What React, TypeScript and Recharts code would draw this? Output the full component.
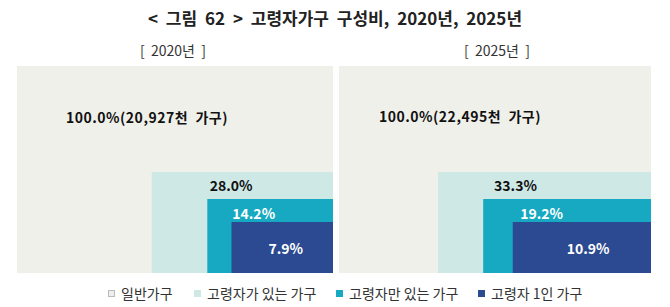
import React from "react";
import { ComposedChart, XAxis, YAxis, ReferenceArea } from "recharts";

// 가구 구성비 (%), 연도별
const years = ["2020년", "2025년"];
const totalHouseholds = ["20,927", "22,495"]; // 천 가구
const withElderly = [28.0, 33.3];
const elderlyOnly = [14.2, 19.2];
const elderlySingle = [7.9, 10.9];
const seriesNames = [
  "일반가구",
  "고령자가 있는 가구",
  "고령자만 있는 가구",
  "고령자 1인 가구",
];

const COLORS = ["#F0F0EB", "#CEE8E6", "#17A9C1", "#2B4A91"];
const TEXT_COLORS = ["#111", "#111", "#fff", "#fff"];
const FONT = "'Noto Sans CJK KR', 'Noto Sans', sans-serif";

// each nested box keeps a fixed share of the panel height, width follows the value
const BOX_HEIGHTS = [0.488, 0.357, 0.246];

// label offsets from each box's top-left corner, per panel
const LABEL_OFFSETS = [
  [[49, 51], [58, 13.5], [25, 14], [37, 26]],
  [[40, 50], [56, 13.5], [37, 14], [54, 26]],
];

const PANELS = [
  { left: 17, width: 316 },
  { left: 339, width: 312 },
];
const PANEL_TOP = 66;
const PANEL_HEIGHT = 207;

const axisData = [
  { x: 0, y: 0 },
  { x: 1, y: 1 },
];

const makeLabel =
  (text: string, dx: number, dy: number, color: string, spacing = 0) =>
  (props: any) => {
    const vb = props.viewBox || {};
    return (
      <text
        x={vb.x + dx}
        y={vb.y + dy}
        dominantBaseline="central"
        fill={color}
        fontSize={14}
        fontWeight={700}
        fontFamily={FONT}
        letterSpacing={spacing}
        style={{ whiteSpace: "pre" }}
      >
        {text}
      </text>
    );
  };

const Panel: React.FC<{ idx: number }> = ({ idx }) => {
  const shares = [withElderly[idx], elderlyOnly[idx], elderlySingle[idx]];
  const offs = LABEL_OFFSETS[idx];
  return (
    <ComposedChart
      width={PANELS[idx].width}
      height={PANEL_HEIGHT}
      data={axisData}
      margin={{ top: 0, right: 0, bottom: 0, left: 0 }}
    >
      <XAxis dataKey="x" type="number" domain={[0, 1]} hide allowDataOverflow />
      <YAxis dataKey="y" type="number" domain={[0, 1]} hide allowDataOverflow />
      <ReferenceArea
        x1={0}
        x2={1}
        y1={0}
        y2={1}
        fill={COLORS[0]}
        fillOpacity={1}
        stroke="none"
        label={makeLabel(
          `100.0%(${totalHouseholds[idx]}천  가구)`,
          offs[0][0],
          offs[0][1],
          TEXT_COLORS[0],
          0.5
        )}
      />
      {shares.map((v, i) => {
        const h = BOX_HEIGHTS[i];
        const w = v / 100 / h;
        return (
          <ReferenceArea
            key={i}
            x1={1 - w}
            x2={1}
            y1={0}
            y2={h}
            fill={COLORS[i + 1]}
            fillOpacity={1}
            stroke="none"
            label={makeLabel(
              `${v.toFixed(1)}%`,
              offs[i + 1][0],
              offs[i + 1][1],
              TEXT_COLORS[i + 1]
            )}
          />
        );
      })}
    </ComposedChart>
  );
};

const LEGEND_X = [112, 198, 340, 482];

export default function App() {
  return (
    <div
      style={{
        position: "absolute",
        left: 0,
        top: 0,
        width: 670,
        height: 307,
        background: "#fff",
        fontFamily: FONT,
        color: "#222",
      }}
    >
      <div
        style={{
          position: "absolute",
          top: 6,
          left: 0,
          width: 670,
          textAlign: "center",
          fontSize: 17,
          fontWeight: 700,
          lineHeight: "24px",
          wordSpacing: 4,
          whiteSpace: "pre",
        }}
      >
        {"< 그림 62 > 고령자가구 구성비, 2020년, 2025년"}
      </div>
      {years.map((y, i) => (
        <div
          key={y}
          style={{
            position: "absolute",
            top: 40,
            left: i === 0 ? 73 : 397,
            width: 200,
            textAlign: "center",
            fontSize: 14,
            lineHeight: "20px",
            color: "#333",
            whiteSpace: "pre",
          }}
        >
          {`[  ${y}  ]`}
        </div>
      ))}
      {PANELS.map((p, i) => (
        <div
          key={i}
          style={{ position: "absolute", left: p.left, top: PANEL_TOP }}
        >
          <Panel idx={i} />
        </div>
      ))}
      {seriesNames.map((name, i) => (
        <div
          key={name}
          style={{
            position: "absolute",
            left: LEGEND_X[i] - 4,
            top: 283,
            fontSize: 14,
            lineHeight: "20px",
            color: "#333",
            display: "flex",
            alignItems: "center",
            whiteSpace: "nowrap",
          }}
        >
          <span
            style={{
              display: "inline-block",
              width: 7,
              height: 7,
              background: i === 0 ? "#eeeeee" : COLORS[i],
              border: i === 0 ? "1px solid #bbb" : "none",
              boxSizing: "border-box",
              marginRight: 6,
            }}
          />
          {name}
        </div>
      ))}
    </div>
  );
}
